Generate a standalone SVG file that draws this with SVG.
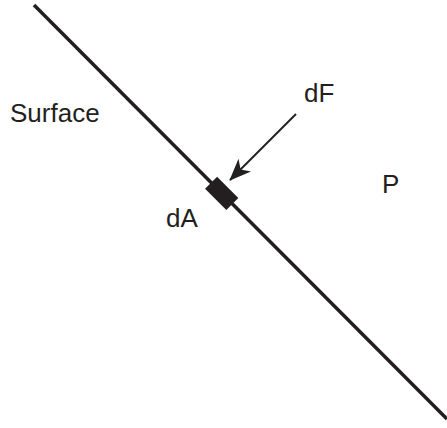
<svg xmlns="http://www.w3.org/2000/svg" width="447" height="428" viewBox="0 0 447 428">
<style>
text{font-family:"Liberation Sans",Arial,sans-serif;font-size:26px;fill:#231f20}
.ln{stroke:#231f20;stroke-width:3.5;fill:none}
</style>
<defs>
<marker id="ah" viewBox="0 0 22 18" refX="21" refY="9" markerWidth="22" markerHeight="18" markerUnits="userSpaceOnUse" orient="auto">
<path d="M0,0 L22,9 L0,18 L6,9 Z" fill="#231f20"/>
</marker>
</defs>
<rect width="447" height="428" fill="#fff"/>
<g id="surface">
<line class="ln" x1="34" y1="5" x2="447" y2="419"/>
<text x="10" y="122">Surface</text>
</g>
<g id="dA">
<rect x="-15" y="-8.5" width="30" height="17" fill="#231f20" transform="translate(221.7,193.3) rotate(45)"/>
<text x="166" y="227">dA</text>
</g>
<g id="P">
<text x="382" y="193">P</text>
</g>
<g id="connectors">
<line x1="296" y1="114" x2="230" y2="180" stroke="#231f20" stroke-width="2" marker-end="url(#ah)"/>
<text x="304" y="102">dF</text>
</g>
</svg>
